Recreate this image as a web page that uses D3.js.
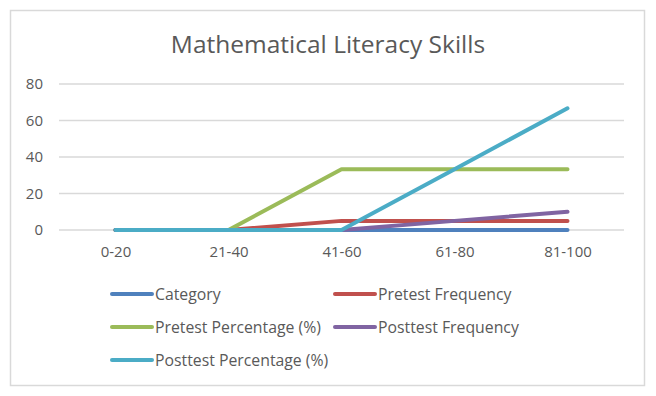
<!DOCTYPE html>
<html>
<head>
<meta charset="utf-8">
<script src="https://cdn.jsdelivr.net/npm/d3@7"></script>
<style>
  body { margin: 0; background: #fff; }
  text { font-family: "Open Sans", "Noto Sans", sans-serif; fill: #595959; }
</style>
</head>
<body>
<div id="chart"></div>
<script>
// chart values
var categories = ["0-20", "21-40", "41-60", "61-80", "81-100"];
var seriesNames = ["Category", "Pretest Frequency", "Pretest Percentage (%)", "Posttest Frequency", "Posttest Percentage (%)"];
var category = [0, 0, 0, 0, 0];
var pretestFrequency = [0, 0, 5, 5, 5];
var pretestPercentage = [0, 0, 33.33, 33.33, 33.33];
var posttestFrequency = [0, 0, 0, 5, 10];
var posttestPercentage = [0, 0, 0, 33.33, 66.67];
var yTicks = [0, 20, 40, 60, 80];
var colors = ["#4F81BD", "#C0504D", "#9BBB59", "#8064A2", "#4BACC6"];

var allSeries = [category, pretestFrequency, pretestPercentage, posttestFrequency, posttestPercentage];

var width = 656, height = 396;
var margin = {top: 84, right: 32, bottom: 166, left: 59};
var innerW = 624 - margin.left;
var innerH = 230 - margin.top;

var svg = d3.select("#chart").append("svg")
    .attr("width", width)
    .attr("height", height);

// outer frame
svg.append("rect")
    .attr("x", 10.5).attr("y", 10.5)
    .attr("width", 634).attr("height", 375)
    .attr("fill", "#fff")
    .attr("stroke", "#D9D9D9")
    .attr("stroke-width", 1.5);

svg.append("text")
    .attr("x", 328).attr("y", 53)
    .attr("text-anchor", "middle")
    .style("font-size", "24.5px")
    .text("Mathematical Literacy Skills");

var g = svg.append("g")
    .attr("transform", "translate(" + margin.left + "," + margin.top + ")");

var x = d3.scalePoint()
    .domain(categories)
    .range([0, innerW])
    .padding(0.5);

var y = d3.scaleLinear()
    .domain([0, 80])
    .range([innerH, 0]);

// gridlines
g.selectAll(".grid")
    .data(yTicks)
    .enter().append("line")
    .attr("class", "grid")
    .attr("x1", 0).attr("x2", innerW)
    .attr("y1", function(d){ return y(d); })
    .attr("y2", function(d){ return y(d); })
    .attr("stroke", "#D9D9D9")
    .attr("stroke-width", 1.3);

var yAxis = d3.axisLeft(y).tickValues(yTicks).tickSize(0).tickPadding(16);
g.append("g").attr("class", "y-axis").call(yAxis)
    .call(function(a){ a.select(".domain").remove(); })
    .selectAll("text")
    .style("font-size", "15px");

var xAxis = d3.axisBottom(x).tickSize(0).tickPadding(16);
g.append("g").attr("class", "x-axis")
    .attr("transform", "translate(0," + innerH + ")")
    .call(xAxis)
    .call(function(a){ a.select(".domain").remove(); })
    .selectAll("text")
    .style("font-size", "15px");

var line = d3.line()
    .x(function(d, i){ return x(categories[i]); })
    .y(function(d){ return y(d); });

g.selectAll(".series")
    .data(allSeries)
    .enter().append("path")
    .attr("class", "series")
    .attr("d", line)
    .attr("fill", "none")
    .attr("stroke", function(d, i){ return colors[i]; })
    .attr("stroke-width", 4)
    .attr("stroke-linecap", "round")
    .attr("stroke-linejoin", "round");

// legend
var legendPos = [[110, 294], [333, 294], [110, 327], [333, 327], [110, 360]];
var legend = svg.selectAll(".legend")
    .data(seriesNames)
    .enter().append("g")
    .attr("class", "legend")
    .attr("transform", function(d, i){ return "translate(" + legendPos[i][0] + "," + legendPos[i][1] + ")"; });

legend.append("line")
    .attr("x1", 2).attr("x2", 42)
    .attr("stroke", function(d, i){ return colors[i]; })
    .attr("stroke-width", 4)
    .attr("stroke-linecap", "round");

legend.append("text")
    .attr("x", 45).attr("dy", "0.35em")
    .style("font-size", "15.8px")
    .text(function(d){ return d; });
</script>
</body>
</html>
